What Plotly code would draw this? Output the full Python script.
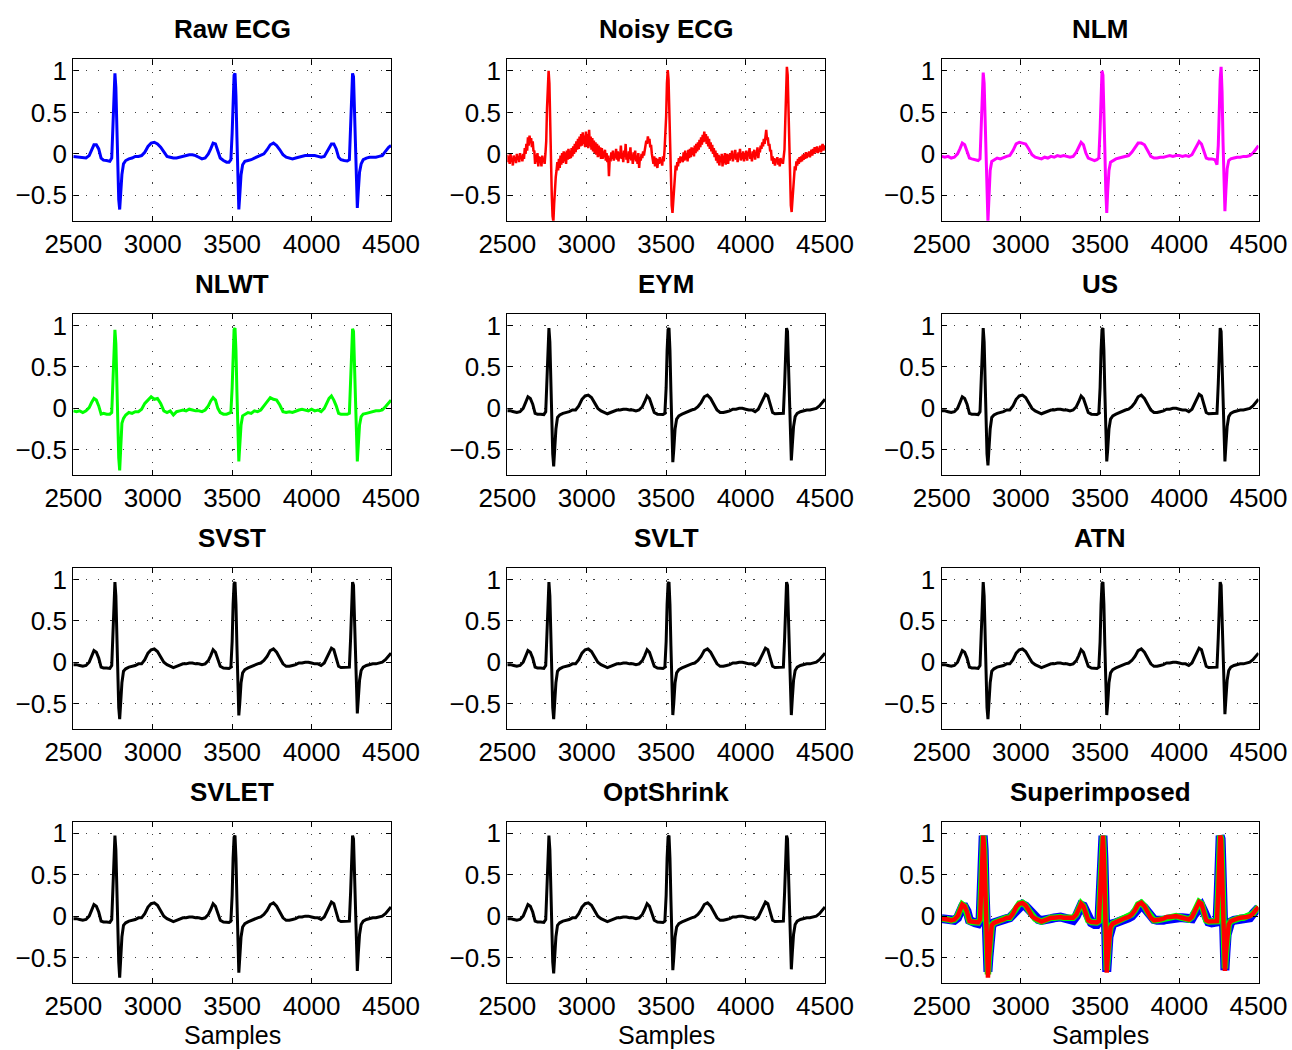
import plotly.graph_objects as go

# ---------------- data ----------------
# shared sample grid for the smooth / denoised signals
GRID = [2500, 2520, 2540, 2560, 2580, 2600, 2615, 2630, 2645, 2660, 2675, 2690, 2710, 2730,
        2742, 2750, 2756, 2762, 2768, 2774, 2780, 2786, 2792, 2798, 2806, 2816,
        2830, 2850, 2870, 2890, 2910, 2930, 2950, 2970, 2990, 3010, 3030, 3050, 3070, 3090,
        3110, 3130, 3150, 3170, 3190, 3210, 3230, 3250, 3270, 3290, 3310, 3330, 3350, 3365,
        3380, 3395, 3410, 3425, 3445, 3465, 3480,
        3492, 3500, 3506, 3512, 3518, 3524, 3530, 3536, 3542, 3548, 3556, 3566,
        3580, 3600, 3620, 3640, 3660, 3680, 3700, 3720, 3740, 3760, 3780, 3800, 3820, 3840,
        3860, 3880, 3900, 3920, 3940, 3960, 3980, 4000, 4020, 4040, 4060, 4080, 4095, 4110,
        4125, 4140, 4155, 4170, 4185, 4205, 4225,
        4238, 4246, 4252, 4258, 4264, 4270, 4276, 4282, 4288, 4294, 4302, 4312,
        4325, 4345, 4365, 4385, 4405, 4425, 4445, 4465, 4485, 4500]

RAW_ECG = [-0.03, -0.035, -0.04, -0.05, -0.05, -0.02, 0.05, 0.11, 0.11, 0.06, -0.05, -0.075, -0.08, -0.09,
           -0.05, 0.35, 0.80, 0.97, 0.80, 0.30, -0.20, -0.55, -0.67, -0.50, -0.25, -0.12,
           -0.08, -0.06, -0.05, -0.03, -0.03, -0.02, 0.02, 0.09, 0.13, 0.14, 0.12, 0.08, 0.02, -0.03,
           -0.04, -0.05, -0.05, -0.04, -0.03, -0.02, -0.01, -0.01, -0.02, -0.04, -0.06, -0.05, 0.00, 0.06,
           0.13, 0.12, 0.04, -0.05, -0.08, -0.10, -0.10,
           -0.07, 0.25, 0.70, 0.95, 0.97, 0.70, 0.20, -0.35, -0.67, -0.50, -0.25, -0.13,
           -0.09, -0.08, -0.07, -0.05, -0.03, -0.02, 0.00, 0.05, 0.11, 0.13, 0.10, 0.05, -0.01, -0.04,
           -0.05, -0.06, -0.05, -0.04, -0.03, -0.02, -0.02, -0.02, -0.02, -0.03, -0.04, -0.03, 0.02, 0.07,
           0.12, 0.12, 0.06, -0.04, -0.07, -0.08, -0.085,
           -0.07, 0.30, 0.75, 0.97, 0.93, 0.55, 0.05, -0.45, -0.65, -0.45, -0.22, -0.12,
           -0.07, -0.05, -0.04, -0.04, -0.04, -0.03, -0.02, 0.03, 0.08, 0.10]

NLM = [-0.03, -0.04, -0.03, -0.05, -0.04, 0.00, 0.06, 0.13, 0.11, 0.04, -0.05, -0.06, -0.07, -0.08,
       -0.06, 0.30, 0.78, 0.98, 0.85, 0.35, -0.20, -0.60, -0.82, -0.55, -0.20, -0.09,
       -0.07, -0.05, -0.06, -0.04, -0.03, -0.02, 0.04, 0.12, 0.14, 0.13, 0.12, 0.06, -0.01, -0.04,
       -0.05, -0.06, -0.04, -0.05, -0.03, -0.04, -0.02, -0.03, -0.02, -0.03, -0.04, -0.03, 0.02, 0.08,
       0.14, 0.11, 0.01, -0.05, -0.07, -0.08, -0.07,
       -0.05, 0.30, 0.80, 1.00, 0.95, 0.60, 0.05, -0.45, -0.71, -0.45, -0.20, -0.10,
       -0.08, -0.06, -0.05, -0.04, -0.03, -0.02, 0.02, 0.08, 0.13, 0.13, 0.11, 0.04, -0.03, -0.05,
       -0.05, -0.04, -0.04, -0.03, -0.02, -0.03, -0.02, -0.02, -0.03, -0.02, -0.03, -0.01, 0.05, 0.11,
       0.15, 0.12, 0.03, -0.05, -0.06, -0.06, -0.07,
       -0.13, 0.10, 0.55, 0.90, 1.05, 0.75, 0.15, -0.40, -0.69, -0.45, -0.18, -0.08,
       -0.06, -0.05, -0.04, -0.04, -0.03, -0.03, -0.02, 0.01, 0.06, 0.10]

NLWT = [-0.03, -0.04, -0.03, -0.05, -0.03, 0.01, 0.07, 0.12, 0.10, 0.03, -0.07, -0.06, -0.07, -0.07,
        -0.05, 0.30, 0.75, 0.95, 0.78, 0.30, -0.25, -0.60, -0.75, -0.50, -0.18, -0.12,
        -0.08, -0.05, -0.06, -0.04, -0.04, -0.01, 0.06, 0.10, 0.14, 0.11, 0.12, 0.06, -0.03, -0.05,
        -0.03, -0.08, -0.04, -0.03, -0.02, -0.03, -0.01, -0.02, -0.03, -0.03, -0.04, -0.02, 0.03, 0.09,
        0.13, 0.10, 0.00, -0.05, -0.07, -0.07, -0.06,
        -0.05, 0.25, 0.72, 0.95, 0.97, 0.70, 0.20, -0.35, -0.64, -0.45, -0.20, -0.09,
        -0.07, -0.05, -0.06, -0.03, -0.04, -0.02, 0.03, 0.08, 0.13, 0.11, 0.10, 0.04, -0.04, -0.05,
        -0.04, -0.05, -0.03, -0.02, -0.01, -0.02, -0.03, -0.01, -0.03, -0.02, -0.04, 0.00, 0.06, 0.12,
        0.15, 0.10, 0.03, -0.06, -0.07, -0.07, -0.07,
        -0.06, 0.30, 0.75, 0.96, 0.93, 0.55, 0.05, -0.45, -0.64, -0.45, -0.20, -0.10,
        -0.07, -0.06, -0.05, -0.04, -0.03, -0.03, -0.02, 0.02, 0.07, 0.10]

DENOISED = [-0.03, -0.03, -0.04, -0.05, -0.04, 0.00, 0.07, 0.14, 0.12, 0.05, -0.06, -0.07, -0.07, -0.075,
            -0.04, 0.35, 0.80, 0.97, 0.80, 0.30, -0.20, -0.55, -0.70, -0.50, -0.25, -0.11,
            -0.08, -0.06, -0.05, -0.04, -0.02, -0.02, 0.03, 0.11, 0.15, 0.16, 0.13, 0.07, 0.00, -0.03,
            -0.05, -0.065, -0.05, -0.03, -0.02, -0.02, -0.01, -0.01, -0.02, -0.02, -0.03, -0.02, 0.02, 0.08,
            0.15, 0.12, 0.02, -0.05, -0.07, -0.075, -0.075,
            -0.06, 0.25, 0.70, 0.95, 0.97, 0.70, 0.20, -0.35, -0.65, -0.50, -0.25, -0.13,
            -0.09, -0.07, -0.05, -0.04, -0.02, -0.01, 0.02, 0.07, 0.14, 0.16, 0.12, 0.05, -0.02, -0.05,
            -0.05, -0.04, -0.03, -0.01, -0.01, 0.00, 0.00, -0.01, -0.02, -0.02, -0.04, -0.01, 0.05, 0.12,
            0.17, 0.15, 0.05, -0.05, -0.065, -0.065, -0.065,
            -0.06, 0.30, 0.75, 0.97, 0.93, 0.55, 0.05, -0.45, -0.63, -0.45, -0.22, -0.10,
            -0.06, -0.04, -0.03, -0.02, -0.02, -0.01, 0.00, 0.03, 0.08, 0.11]

# S-wave minima read for each black panel (beats 1, 2, 3)
S_DEPTHS = {
    "EYM": [-0.70, -0.65, -0.63],
    "US": [-0.69, -0.64, -0.64],
    "SVST": [-0.69, -0.645, -0.62],
    "SVLT": [-0.69, -0.64, -0.64],
    "ATN": [-0.69, -0.64, -0.63],
    "SVLET": [-0.74, -0.68, -0.66],
    "OptShrink": [-0.69, -0.65, -0.64],
}
S_SAMPLES = [2792, 3542, 4288]

# noisy ECG, every 5 samples
NOISY_X = list(range(2500, 4501, 5))
NOISY_ECG = [
    -0.01, -0.10, -0.03, -0.12, 0.00, -0.09, -0.05, -0.14, -0.02, -0.08, -0.04, -0.11, 0.00, -0.07, -0.03, -0.10, 0.01, -0.06, -0.02, -0.09,
    0.00, -0.06, 0.07, 0.00, 0.12, 0.04, 0.20, 0.10, 0.22, 0.13, 0.19, 0.08, 0.15, 0.03, 0.04, -0.12, -0.01, -0.10, 0.01, -0.15,
    -0.03, -0.11, -0.04, -0.15, -0.02, -0.09, -0.06, -0.12, 0.00, 0.15, 0.55, 0.92, 1.00, 0.85, 0.30, -0.15, -0.50, -0.75, -0.82, -0.60,
    -0.40, -0.28, -0.20, -0.10, -0.20, -0.06, -0.17, -0.02, -0.13, 0.01, -0.11, 0.03, -0.09, 0.02, -0.12, 0.04, -0.07, 0.06, -0.06, 0.04,
    -0.05, 0.07, -0.03, 0.09, 0.00, 0.12, 0.02, 0.15, 0.05, 0.18, 0.06, 0.21, 0.09, 0.24, 0.10, 0.26, 0.12, 0.22, 0.08, 0.27,
    0.10, 0.24, 0.07, 0.29, 0.09, 0.21, 0.05, 0.19, 0.03, 0.16, 0.01, 0.14, -0.01, 0.12, -0.04, 0.10, -0.03, 0.08, -0.06, 0.07,
    -0.06, 0.03, -0.04, 0.05, -0.08, 0.01, -0.10, -0.02, -0.27, -0.05, -0.09, 0.02, -0.06, 0.04, -0.08, 0.00, -0.05, 0.06, -0.07, 0.03,
    -0.09, 0.02, -0.05, 0.10, -0.06, 0.01, -0.10, 0.04, -0.04, 0.12, -0.07, 0.00, -0.11, 0.03, -0.06, 0.08, -0.08, -0.01, -0.12, 0.02,
    -0.07, 0.04, -0.09, -0.02, -0.12, 0.01, -0.17, -0.04, -0.08, 0.00, -0.05, 0.03, -0.02, 0.06, 0.10, 0.16, 0.12, 0.21, 0.14, 0.18,
    0.08, 0.11, 0.00, -0.06, -0.12, -0.03, -0.15, -0.05, -0.10, -0.17, -0.06, -0.12, -0.04, -0.11, -0.07, -0.14, -0.03, -0.09, 0.05, 0.20,
    0.45, 0.85, 1.01, 0.90, 0.50, 0.05, -0.35, -0.62, -0.71, -0.55, -0.35, -0.22, -0.14, -0.20, -0.10, -0.15, -0.05, -0.11, -0.03, -0.09,
    -0.04, -0.10, 0.02, -0.08, 0.04, -0.07, 0.01, -0.09, 0.05, -0.05, 0.06, -0.04, 0.08, -0.01, 0.07, -0.03, 0.10, 0.01, 0.12, 0.03,
    0.14, 0.05, 0.17, 0.08, 0.20, 0.11, 0.23, 0.14, 0.27, 0.15, 0.24, 0.12, 0.21, 0.09, 0.18, 0.06, 0.14, 0.03, 0.11, 0.00,
    0.07, -0.04, 0.04, -0.08, 0.01, -0.11, -0.01, -0.14, -0.03, -0.10, 0.00, -0.15, -0.02, -0.11, 0.01, -0.13, -0.04, 0.00, -0.12, -0.01,
    -0.08, 0.01, -0.06, 0.04, -0.09, -0.01, -0.05, 0.05, -0.07, 0.00, -0.10, 0.02, -0.04, 0.06, -0.08, -0.02, -0.06, 0.03, -0.09, 0.01,
    -0.05, 0.04, -0.08, 0.02, -0.03, 0.07, -0.06, 0.00, -0.09, 0.03, -0.04, 0.05, -0.07, 0.01, -0.02, 0.08, -0.05, 0.04, 0.02, 0.10,
    0.06, 0.14, 0.09, 0.18, 0.12, 0.22, 0.29, 0.17, 0.20, 0.10, 0.12, 0.03, 0.05, -0.08, -0.03, -0.12, -0.05, -0.14, -0.06, -0.10,
    -0.04, -0.13, -0.06, -0.15, -0.05, -0.11, -0.07, -0.12, -0.02, 0.05, 0.40, 0.80, 1.05, 0.95, 0.55, 0.10, -0.30, -0.62, -0.70, -0.55,
    -0.38, -0.25, -0.15, -0.20, -0.09, -0.14, -0.06, -0.12, -0.04, -0.10, -0.03, -0.09, -0.01, -0.07, 0.00, -0.06, 0.02, -0.05, 0.01, -0.03,
    0.03, -0.04, 0.01, 0.05, -0.02, 0.06, 0.00, 0.08, 0.02, 0.04, 0.09, 0.01, 0.07, 0.03, 0.10, 0.02, 0.08, 0.12, 0.04, 0.10,
    0.07]

X_TICKS = [2500, 3000, 3500, 4000, 4500]
Y_TICKS = [-0.5, 0, 0.5, 1]
Y_TICK_TEXT = ["\u22120.5", "0", "0.5", "1"]
X_RANGE = [2500, 4500]
Y_RANGE = [-0.805, 1.14]


def black_panel(name):
    ys = list(DENOISED)
    for s, v in zip(S_SAMPLES, S_DEPTHS[name]):
        ys[GRID.index(s)] = v
    return ys


PANELS = [
    ("Raw ECG", [(GRID, RAW_ECG, "#0000ff", 3)]),
    ("Noisy ECG", [(NOISY_X, NOISY_ECG, "#ff0000", 2.5)]),
    ("NLM", [(GRID, NLM, "#ff00ff", 3)]),
    ("NLWT", [(GRID, NLWT, "#00ff00", 3)]),
    ("EYM", [(GRID, black_panel("EYM"), "#000000", 3)]),
    ("US", [(GRID, black_panel("US"), "#000000", 3)]),
    ("SVST", [(GRID, black_panel("SVST"), "#000000", 3)]),
    ("SVLT", [(GRID, black_panel("SVLT"), "#000000", 3)]),
    ("ATN", [(GRID, black_panel("ATN"), "#000000", 3)]),
    ("SVLET", [(GRID, black_panel("SVLET"), "#000000", 3)]),
    ("OptShrink", [(GRID, black_panel("OptShrink"), "#000000", 3)]),
    ("Superimposed", [(GRID, RAW_ECG, "#0000ff", 9),
                      (GRID, black_panel("EYM"), "#00ff00", 6.5),
                      (GRID, black_panel("SVLET"), "#ff0000", 4.5)]),
]

# ---------------- layout ----------------
W, H = 1292, 1050
COLS = [(73.3, 391.0), (507.3, 825.0), (941.7, 1258.5)]
ROWS = [(59.3, 220.7), (314.0, 475.0), (568.0, 728.7), (821.5, 983.0)]
FONT = "Liberation Sans, Arial, Helvetica, sans-serif"

fig = go.Figure()
annotations = []
for i, (title, series) in enumerate(PANELS):
    r, c = divmod(i, 3)
    n = i + 1
    xname = "x" if n == 1 else f"x{n}"
    yname = "y" if n == 1 else f"y{n}"
    for xs, ys, col, w in series:
        fig.add_trace(go.Scatter(x=xs, y=ys, mode="lines", xaxis=xname, yaxis=yname,
                                 line=dict(color=col, width=w), showlegend=False,
                                 hoverinfo="skip"))
    x0, x1 = COLS[c]
    y0, y1 = ROWS[r]
    common = dict(showline=True, linecolor="black", linewidth=1.4, mirror="ticks",
                  ticks="inside", ticklen=5, tickwidth=1, tickcolor="black",
                  showgrid=True, gridcolor="rgba(0,0,0,0.75)", gridwidth=1,
                  griddash="1.3px,11px", zeroline=False, automargin=False,
                  tickfont=dict(family=FONT, size=26, color="black"))
    fig.layout[f"xaxis{n}"] = dict(domain=[x0 / W, x1 / W], anchor=yname, range=X_RANGE,
                                   tickvals=X_TICKS, ticktext=[str(v) for v in X_TICKS],
                                   **common)
    fig.layout[f"yaxis{n}"] = dict(domain=[1 - y1 / H, 1 - y0 / H], anchor=xname, range=Y_RANGE,
                                   tickvals=Y_TICKS, ticktext=Y_TICK_TEXT, **common)
    annotations.append(dict(text=f"<b>{title}</b>", x=(x0 + x1) / 2 / W, y=1 - (y0 - 30) / H,
                            xref="paper", yref="paper", xanchor="center", yanchor="middle",
                            showarrow=False, font=dict(family=FONT, size=26, color="black")))
    if r == 3:
        annotations.append(dict(text="Samples", x=(x0 + x1) / 2 / W, y=0,
                                xref="paper", yref="paper", xanchor="center", yanchor="bottom",
                                borderpad=0, showarrow=False,
                                font=dict(family=FONT, size=25, color="black")))

fig.update_layout(width=W, height=H, margin=dict(l=0, r=0, t=0, b=0),
                  paper_bgcolor="white", plot_bgcolor="white",
                  annotations=annotations, showlegend=False)

fig.write_html("out.html")
